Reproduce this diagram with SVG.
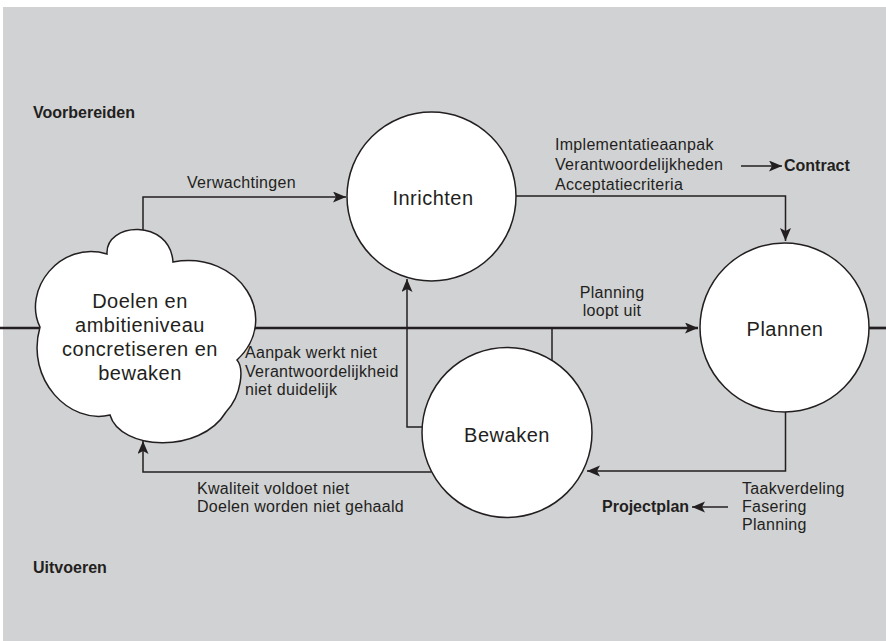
<svg xmlns="http://www.w3.org/2000/svg" width="886" height="641" viewBox="0 0 886 641">
<defs>
<marker id="arr" markerUnits="userSpaceOnUse" markerWidth="14" markerHeight="12" refX="13" refY="5.5" orient="auto">
<path d="M0,0 L13,5.5 L0,11 L3,5.5 Z" fill="#231f20"/>
</marker>
<style>
.t{font-family:"Liberation Sans",Arial,sans-serif;fill:#231f20}
.n{font-size:20px;letter-spacing:0.5px;text-anchor:middle}
.l{font-size:16px;letter-spacing:0.3px}
.b{font-size:16px;font-weight:bold}
.c{fill:none;stroke:#231f20;stroke-width:1.5}
.node{fill:#fff;stroke:#231f20;stroke-width:1.5}
</style>
</defs>
<rect x="3" y="7" width="883" height="634" fill="#d1d2d4"/>
<g id="connectors">
<path class="c" d="M0,328 H698" stroke-width="2.7" style="stroke-width:2.7" marker-end="url(#arr)"/>
<path class="c" d="M869,328 H886" style="stroke-width:2.7"/>
<path class="c" d="M143,232 V197 H346" marker-end="url(#arr)"/>
<path class="c" d="M516,196 H785.5 V241" marker-end="url(#arr)"/>
<path class="c" d="M785.5,412 V471 H587" marker-end="url(#arr)"/>
<path class="c" d="M431,472 H143 V441" marker-end="url(#arr)"/>
<path class="c" d="M422,427 H407 V279" marker-end="url(#arr)"/>
<path class="c" d="M552,328 V361"/>
<path class="c" d="M741,166 H782" marker-end="url(#arr)"/>
<path class="c" d="M728,507 H692" marker-end="url(#arr)"/>
</g>
<g id="cloud">
<path class="node" d="M40,327 C22,290 60,240 107,254 C105,222 170,218 173,262 C240,250 282,318 237,360 C244,368 242,395 226,412 C200,455 120,450 110,415 C70,425 25,380 40,327 Z"/>
<text class="t n" x="140" y="308">Doelen en</text>
<text class="t n" x="140" y="332">ambitieniveau</text>
<text class="t n" x="140" y="356">concretiseren en</text>
<text class="t n" x="140" y="380">bewaken</text>
</g>
<g id="inrichten">
<circle class="node" cx="431.5" cy="196.5" r="84.5"/>
<text class="t n" x="433" y="205">Inrichten</text>
</g>
<g id="plannen">
<circle class="node" cx="784.5" cy="327.5" r="84.5"/>
<text class="t n" x="785" y="336">Plannen</text>
</g>
<g id="bewaken">
<circle class="node" cx="507" cy="432.5" r="85"/>
<text class="t n" x="507" y="442">Bewaken</text>
</g>
<g id="labels">
<text class="t b" x="33" y="118">Voorbereiden</text>
<text class="t b" x="33" y="573">Uitvoeren</text>
<text class="t l" x="187" y="188">Verwachtingen</text>
<text class="t l" x="555" y="150">Implementatieaanpak</text>
<text class="t l" x="555" y="170">Verantwoordelijkheden</text>
<text class="t l" x="555" y="189.5">Acceptatiecriteria</text>
<text class="t b" x="784" y="171">Contract</text>
<text class="t l" x="612" y="298" text-anchor="middle">Planning</text>
<text class="t l" x="612" y="316" text-anchor="middle">loopt uit</text>
<text class="t l" x="245" y="358">Aanpak werkt niet</text>
<text class="t l" x="245" y="376.5">Verantwoordelijkheid</text>
<text class="t l" x="245" y="394.5">niet duidelijk</text>
<text class="t l" x="197" y="494">Kwaliteit voldoet niet</text>
<text class="t l" x="197" y="512">Doelen worden niet gehaald</text>
<text class="t b" x="602" y="512">Projectplan</text>
<text class="t l" x="742" y="494">Taakverdeling</text>
<text class="t l" x="742" y="512">Fasering</text>
<text class="t l" x="742" y="530">Planning</text>
</g>
</svg>
